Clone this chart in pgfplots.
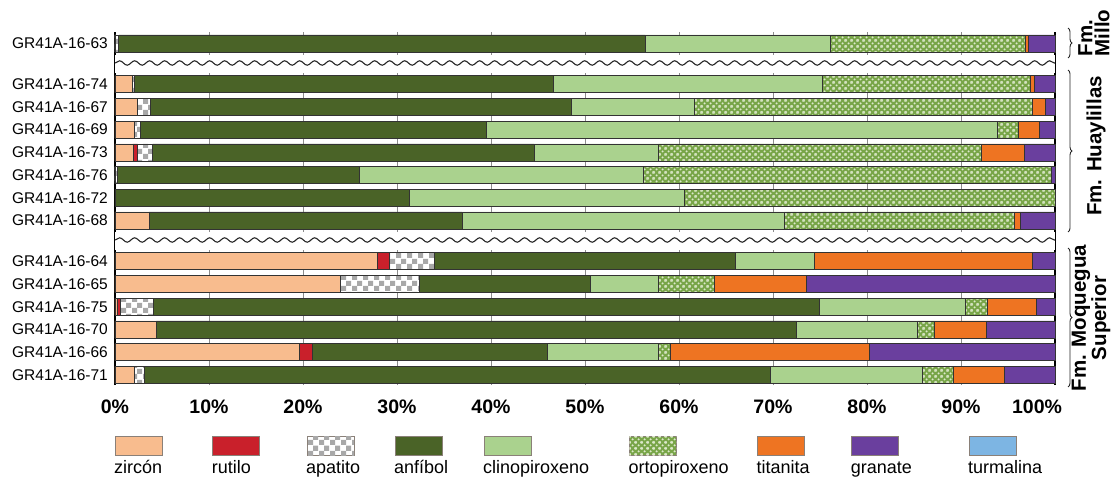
\documentclass[border=0pt]{standalone}
\usepackage{fontspec}
\setmainfont{Liberation Sans}
\usepackage{pgfplots}
\usepackage{pgfplotstable}
\pgfplotsset{compat=1.18}
\usetikzlibrary{patterns,decorations.pathmorphing,decorations.pathreplacing}

% mineral colours
\definecolor{zircon}{HTML}{F8BC8E}
\definecolor{rutilo}{HTML}{C9202B}
\definecolor{apagray}{HTML}{A8A8A8}
\definecolor{anfibol}{HTML}{4A6327}
\definecolor{clino}{HTML}{AAD28E}
\definecolor{ortogreen}{HTML}{78A548}
\definecolor{ortolight}{HTML}{DCE8CA}
\definecolor{titanita}{HTML}{EE7422}
\definecolor{granate}{HTML}{6A3F9E}
\definecolor{turmalina}{HTML}{7DB5E3}
\definecolor{edge}{HTML}{333333}
\definecolor{boxedge}{HTML}{8A8078}

% apatito: checkerboard squares
\pgfdeclarepatternformonly{checker}{\pgfpointorigin}{\pgfqpoint{11pt}{11pt}}{\pgfqpoint{11pt}{11pt}}{
  \pgfpathrectangle{\pgfpointorigin}{\pgfqpoint{5.5pt}{5.5pt}}
  \pgfpathrectangle{\pgfqpoint{5.5pt}{5.5pt}}{\pgfqpoint{5.5pt}{5.5pt}}
  \pgfusepath{fill}}

% ortopiroxeno: pale dots on a green net
\pgfdeclarepatternformonly{netdots}{\pgfpointorigin}{\pgfqpoint{6pt}{6pt}}{\pgfqpoint{6pt}{6pt}}{
  \pgfpathcircle{\pgfqpoint{3pt}{3pt}}{1.3pt}
  \pgfpathcircle{\pgfqpoint{0pt}{0pt}}{1.3pt}
  \pgfpathcircle{\pgfqpoint{6pt}{0pt}}{1.3pt}
  \pgfpathcircle{\pgfqpoint{0pt}{6pt}}{1.3pt}
  \pgfpathcircle{\pgfqpoint{6pt}{6pt}}{1.3pt}
  \pgfusepath{fill}}

\tikzset{
  seg/.style={draw=edge, line width=0.6pt},
  s-zir/.style={seg, fill=zircon},
  s-rut/.style={seg, fill=rutilo},
  s-apa/.style={seg, fill=white, postaction={pattern=checker, pattern color=apagray}},
  s-anf/.style={seg, fill=anfibol},
  s-cli/.style={seg, fill=clino},
  s-ort/.style={seg, fill=ortogreen, postaction={pattern=netdots, pattern color=ortolight}},
  s-tit/.style={seg, fill=titanita},
  s-gra/.style={seg, fill=granate},
  s-tur/.style={seg, fill=turmalina},
  wave/.style={black!85, line width=1.1pt, decorate,
    decoration={snake, segment length=15pt, amplitude=2.2pt}},
}

% heavy-mineral percentages per sample (pos = row on the y axis)
\pgfplotstableread{
name        pos   zir   rut  apa  anf   cli   ort   tit   gra   tur
GR41A-16-71 0     2.1   0    1.0  66.6  16.2  3.3   5.4   5.4   0
GR41A-16-66 1     19.6  1.4  0    25.0  11.8  1.3   21.1  19.8  0
GR41A-16-70 2     4.4   0    0    68.1  12.9  1.8   5.5   7.3   0
GR41A-16-75 3     0.2   0.4  3.5  70.8  15.6  2.3   5.2   2.0   0
GR41A-16-65 4     24.0  0    8.4  18.2  7.2   6.0   9.7   26.5  0
GR41A-16-64 5     27.9  1.3  4.8  32.0  8.4   0     23.2  2.4   0
GR41A-16-68 6.8   3.6   0    0    33.3  34.3  24.5  0.6   3.7   0
GR41A-16-72 7.8   0     0    0    31.3  29.3  39.4  0     0     0
GR41A-16-76 8.8   0     0    0.2  25.8  30.2  43.4  0     0.4   0
GR41A-16-73 9.8   1.9   0.5  1.6  40.6  13.2  34.4  4.5   3.3   0
GR41A-16-69 10.8  2.1   0    0.6  36.8  54.4  2.2   2.2   1.7   0
GR41A-16-67 11.8  2.4   0    1.4  44.7  13.1  36.0  1.4   1.0   0
GR41A-16-74 12.8  1.8   0    0.3  44.5  28.6  22.2  0.4   2.2   0
GR41A-16-63 14.6  0     0    0.4  56.0  19.7  20.7  0.4   2.8   0
}\minerals

\begin{document}
\begin{tikzpicture}
\useasboundingbox (-115pt,-92pt) rectangle (1000pt,385pt);
\begin{axis}[
  at={(0pt,0pt)}, anchor=south west,
  scale only axis, width=940pt, height=353pt,
  xbar stacked, bar width=0.75,
  xmin=0, xmax=100, ymin=-0.45, ymax=15.1,
  xtick={0,10,...,100},
  xticklabels={0\%,10\%,20\%,30\%,40\%,50\%,60\%,70\%,80\%,90\%,\hspace*{-36pt}100\%},
  ytick={0,1,2,3,4,5,6.8,7.8,8.8,9.8,10.8,11.8,12.8,14.6},
  yticklabels from table={\minerals}{name},
  xmajorgrids, grid style={black!45, line width=0.8pt},
  major tick length=0pt,
  axis line style={draw=none},
  xticklabel style={font=\fontsize{19.5}{20}\selectfont\bfseries, inner sep=0pt, anchor=north, yshift=-15pt},
  yticklabel style={font=\fontsize{15.5}{16}\selectfont, inner sep=0pt, anchor=east, xshift=-7pt},
  clip=false,
]
\addplot[s-zir] table[x=zir, y=pos] {\minerals};
\addplot[s-rut] table[x=rut, y=pos] {\minerals};
\addplot[s-apa] table[x=apa, y=pos] {\minerals};
\addplot[s-anf] table[x=anf, y=pos] {\minerals};
\addplot[s-cli] table[x=cli, y=pos] {\minerals};
\addplot[s-ort] table[x=ort, y=pos] {\minerals};
\addplot[s-tit] table[x=tit, y=pos] {\minerals};
\addplot[s-gra] table[x=gra, y=pos] {\minerals};
\addplot[s-tur] table[x=tur, y=pos] {\minerals};

% clear the grid where the formations are separated
\fill[white] (axis cs:0,13.3) rectangle (axis cs:100,14.1);
\fill[white] (axis cs:0,5.5) rectangle (axis cs:100,6.3);

% vertical axis lines
\draw[black, line width=1.6pt] (rel axis cs:0,0) -- (rel axis cs:0,1);
\draw[black, line width=1.6pt] (rel axis cs:1,0) -- (rel axis cs:1,1);
\end{axis}

% wavy breaks between the formations
\draw[wave] (0pt,322pt) -- (940pt,322pt);
\draw[wave] (0pt,145pt) -- (940pt,145pt);

% formation braces and names
\begin{scope}[black!85, line width=0.9pt, decoration={brace, amplitude=4pt}]
  \draw[decorate] (953pt,357pt) -- (953pt,327pt);
  \draw[decorate] (953pt,315pt) -- (953pt,153pt);
  \draw[decorate] (953pt,137pt) -- (953pt,-2pt);
\end{scope}
\begin{scope}[font=\fontsize{20.5}{17}\selectfont\bfseries, inner sep=0pt]
  \node[rotate=90, align=left] at (979pt,352pt) {Fm.\\Millo};
  \node[rotate=90] at (981pt,239pt) {Fm. Huaylillas};
  \node[rotate=90, align=center] at (976pt,67pt) {Fm. Moquegua\\Superior};
\end{scope}

% legend
\foreach \x/\st/\lab in {0/s-zir/zircón, 97.7/s-rut/rutilo, 192/s-apa/apatito,
    280/s-anf/anfíbol, 369/s-cli/clinopiroxeno, 514.3/s-ort/ortopiroxeno,
    642.3/s-tit/titanita, 736.7/s-gra/granate, 854/s-tur/turmalina} {
  \path[\st, draw=boxedge, line width=1pt] (\x pt,-51pt) rectangle ++(47pt,-19pt);
  \node[anchor=base west, inner sep=0pt, font=\fontsize{18}{20}\selectfont] at (\x pt - 1pt,-88pt) {\lab};
}
\end{tikzpicture}
\end{document}
